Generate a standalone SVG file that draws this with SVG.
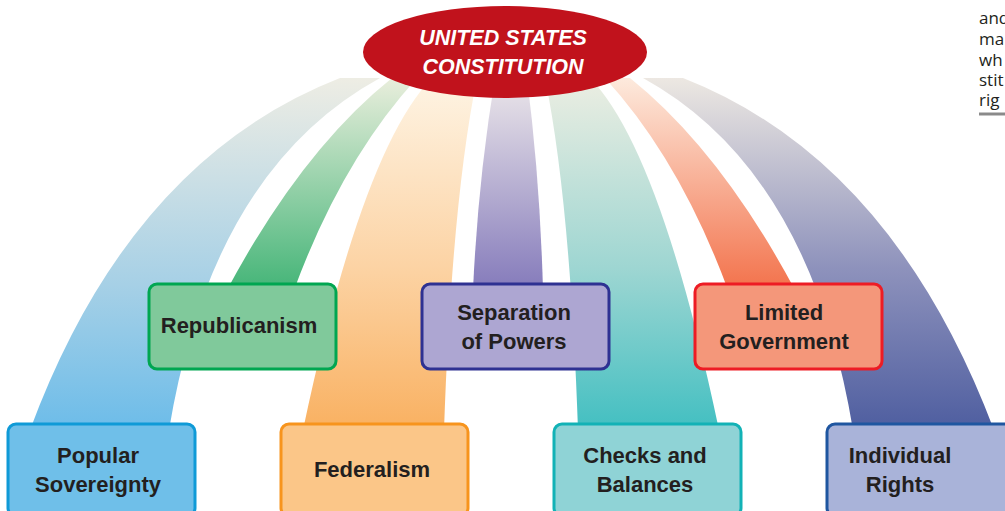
<svg xmlns="http://www.w3.org/2000/svg" width="1005" height="511" viewBox="0 0 1005 511">
<defs>
<style>
.lbl{font-family:"Liberation Sans",Arial,sans-serif;font-weight:bold;font-size:22px;fill:#231f20;text-anchor:middle}
.box{stroke-width:3}
.title{font-family:"Liberation Sans",Arial,sans-serif;font-weight:bold;font-style:italic;font-size:21.5px;fill:#ffffff;text-anchor:middle}
.side{font-family:"Open Sans","Liberation Sans",sans-serif;font-size:17px;fill:#231f20}
</style>
<linearGradient id="gBlue" gradientUnits="userSpaceOnUse" x1="0" y1="78" x2="0" y2="423"><stop offset="0" stop-color="#eeede4"/><stop offset="0.6" stop-color="#a6d0e6"/><stop offset="1" stop-color="#6fbde9"/></linearGradient>
<linearGradient id="gGreen" gradientUnits="userSpaceOnUse" x1="0" y1="78" x2="0" y2="285"><stop offset="0" stop-color="#e9eedc"/><stop offset="1" stop-color="#48b67a"/></linearGradient>
<linearGradient id="gOrange" gradientUnits="userSpaceOnUse" x1="0" y1="78" x2="0" y2="423"><stop offset="0" stop-color="#fef4e4"/><stop offset="0.55" stop-color="#fcd3a4"/><stop offset="1" stop-color="#f9b264"/></linearGradient>
<linearGradient id="gPurple" gradientUnits="userSpaceOnUse" x1="0" y1="78" x2="0" y2="285"><stop offset="0" stop-color="#ece7ea"/><stop offset="1" stop-color="#877dbc"/></linearGradient>
<linearGradient id="gTeal" gradientUnits="userSpaceOnUse" x1="0" y1="78" x2="0" y2="423"><stop offset="0" stop-color="#eceee2"/><stop offset="0.55" stop-color="#9ed6d2"/><stop offset="1" stop-color="#46c0c2"/></linearGradient>
<linearGradient id="gRed" gradientUnits="userSpaceOnUse" x1="0" y1="78" x2="0" y2="285"><stop offset="0" stop-color="#fdeadd"/><stop offset="1" stop-color="#f3754f"/></linearGradient>
<linearGradient id="gNavy" gradientUnits="userSpaceOnUse" x1="0" y1="78" x2="0" y2="423"><stop offset="0" stop-color="#ede8e2"/><stop offset="0.55" stop-color="#8e92bc"/><stop offset="1" stop-color="#5160a1"/></linearGradient>
</defs>
<rect width="1005" height="511" fill="#ffffff"/>
<g id="connectors">
<path d="M340,78 Q130,160 30,430 L169,430 Q212,170 380,78 Z" fill="url(#gBlue)"/>
<path d="M392,78 Q302,150 227,290 L294,290 Q342,160 417,78 Z" fill="url(#gGreen)"/>
<path d="M432,78 Q362,150 303,430 L444,430 Q452,200 477,78 Z" fill="url(#gOrange)"/>
<path d="M495,78 Q478,180 473,290 L543,290 Q540,180 527,78 Z" fill="url(#gPurple)"/>
<path d="M545,78 Q570,200 578,430 L719,430 Q660,150 590,78 Z" fill="url(#gTeal)"/>
<path d="M605,78 Q680,160 728,290 L795,290 Q720,150 630,78 Z" fill="url(#gRed)"/>
<path d="M643,78 Q810,170 853,430 L994,430 Q892,160 683,78 Z" fill="url(#gNavy)"/>
</g>
<g id="constitution">
<ellipse cx="505" cy="52" rx="142" ry="46" fill="#c1121c"/>
<text class="title" x="503" y="45">UNITED STATES</text>
<text class="title" x="503" y="74">CONSTITUTION</text>
</g>
<g id="popular-sovereignty">
<rect class="box" x="8" y="424" width="187" height="92" rx="8" fill="#6fbfe9" stroke="#0f9ad7"/>
<text class="lbl" x="98" y="463">Popular</text>
<text class="lbl" x="98" y="492">Sovereignty</text>
</g>
<g id="federalism">
<rect class="box" x="281" y="424" width="187" height="92" rx="8" fill="#fbc688" stroke="#f7941d"/>
<text class="lbl" x="372" y="477">Federalism</text>
</g>
<g id="checks-and-balances">
<rect class="box" x="554" y="424" width="187" height="92" rx="8" fill="#8fd3d6" stroke="#12b2b6"/>
<text class="lbl" x="645" y="463">Checks and</text>
<text class="lbl" x="645" y="492">Balances</text>
</g>
<g id="individual-rights">
<rect class="box" x="827" y="424" width="187" height="92" rx="8" fill="#a9b3d9" stroke="#1f56a0"/>
<text class="lbl" x="900" y="463">Individual</text>
<text class="lbl" x="900" y="492">Rights</text>
</g>
<g id="republicanism">
<rect class="box" x="149" y="284" width="187" height="85" rx="8" fill="#80c99b" stroke="#00a651"/>
<text class="lbl" x="239" y="333">Republicanism</text>
</g>
<g id="separation-of-powers">
<rect class="box" x="422" y="284" width="187" height="85" rx="8" fill="#ada6d2" stroke="#2e3192"/>
<text class="lbl" x="514" y="320">Separation</text>
<text class="lbl" x="514" y="349">of Powers</text>
</g>
<g id="limited-government">
<rect class="box" x="695" y="284" width="187" height="85" rx="8" fill="#f4977a" stroke="#ed1c24"/>
<text class="lbl" x="784" y="320">Limited</text>
<text class="lbl" x="784" y="349">Government</text>
</g>
<g id="side-text">
<text class="side" x="979" y="24">and</text>
<text class="side" x="979" y="45">ma</text>
<text class="side" x="979" y="66">wh</text>
<text class="side" x="979" y="86">stit</text>
<text class="side" x="979" y="106">rig</text>
<line x1="979" y1="114" x2="1005" y2="114" stroke="#8a8a8a" stroke-width="3"/>
</g>
</svg>
